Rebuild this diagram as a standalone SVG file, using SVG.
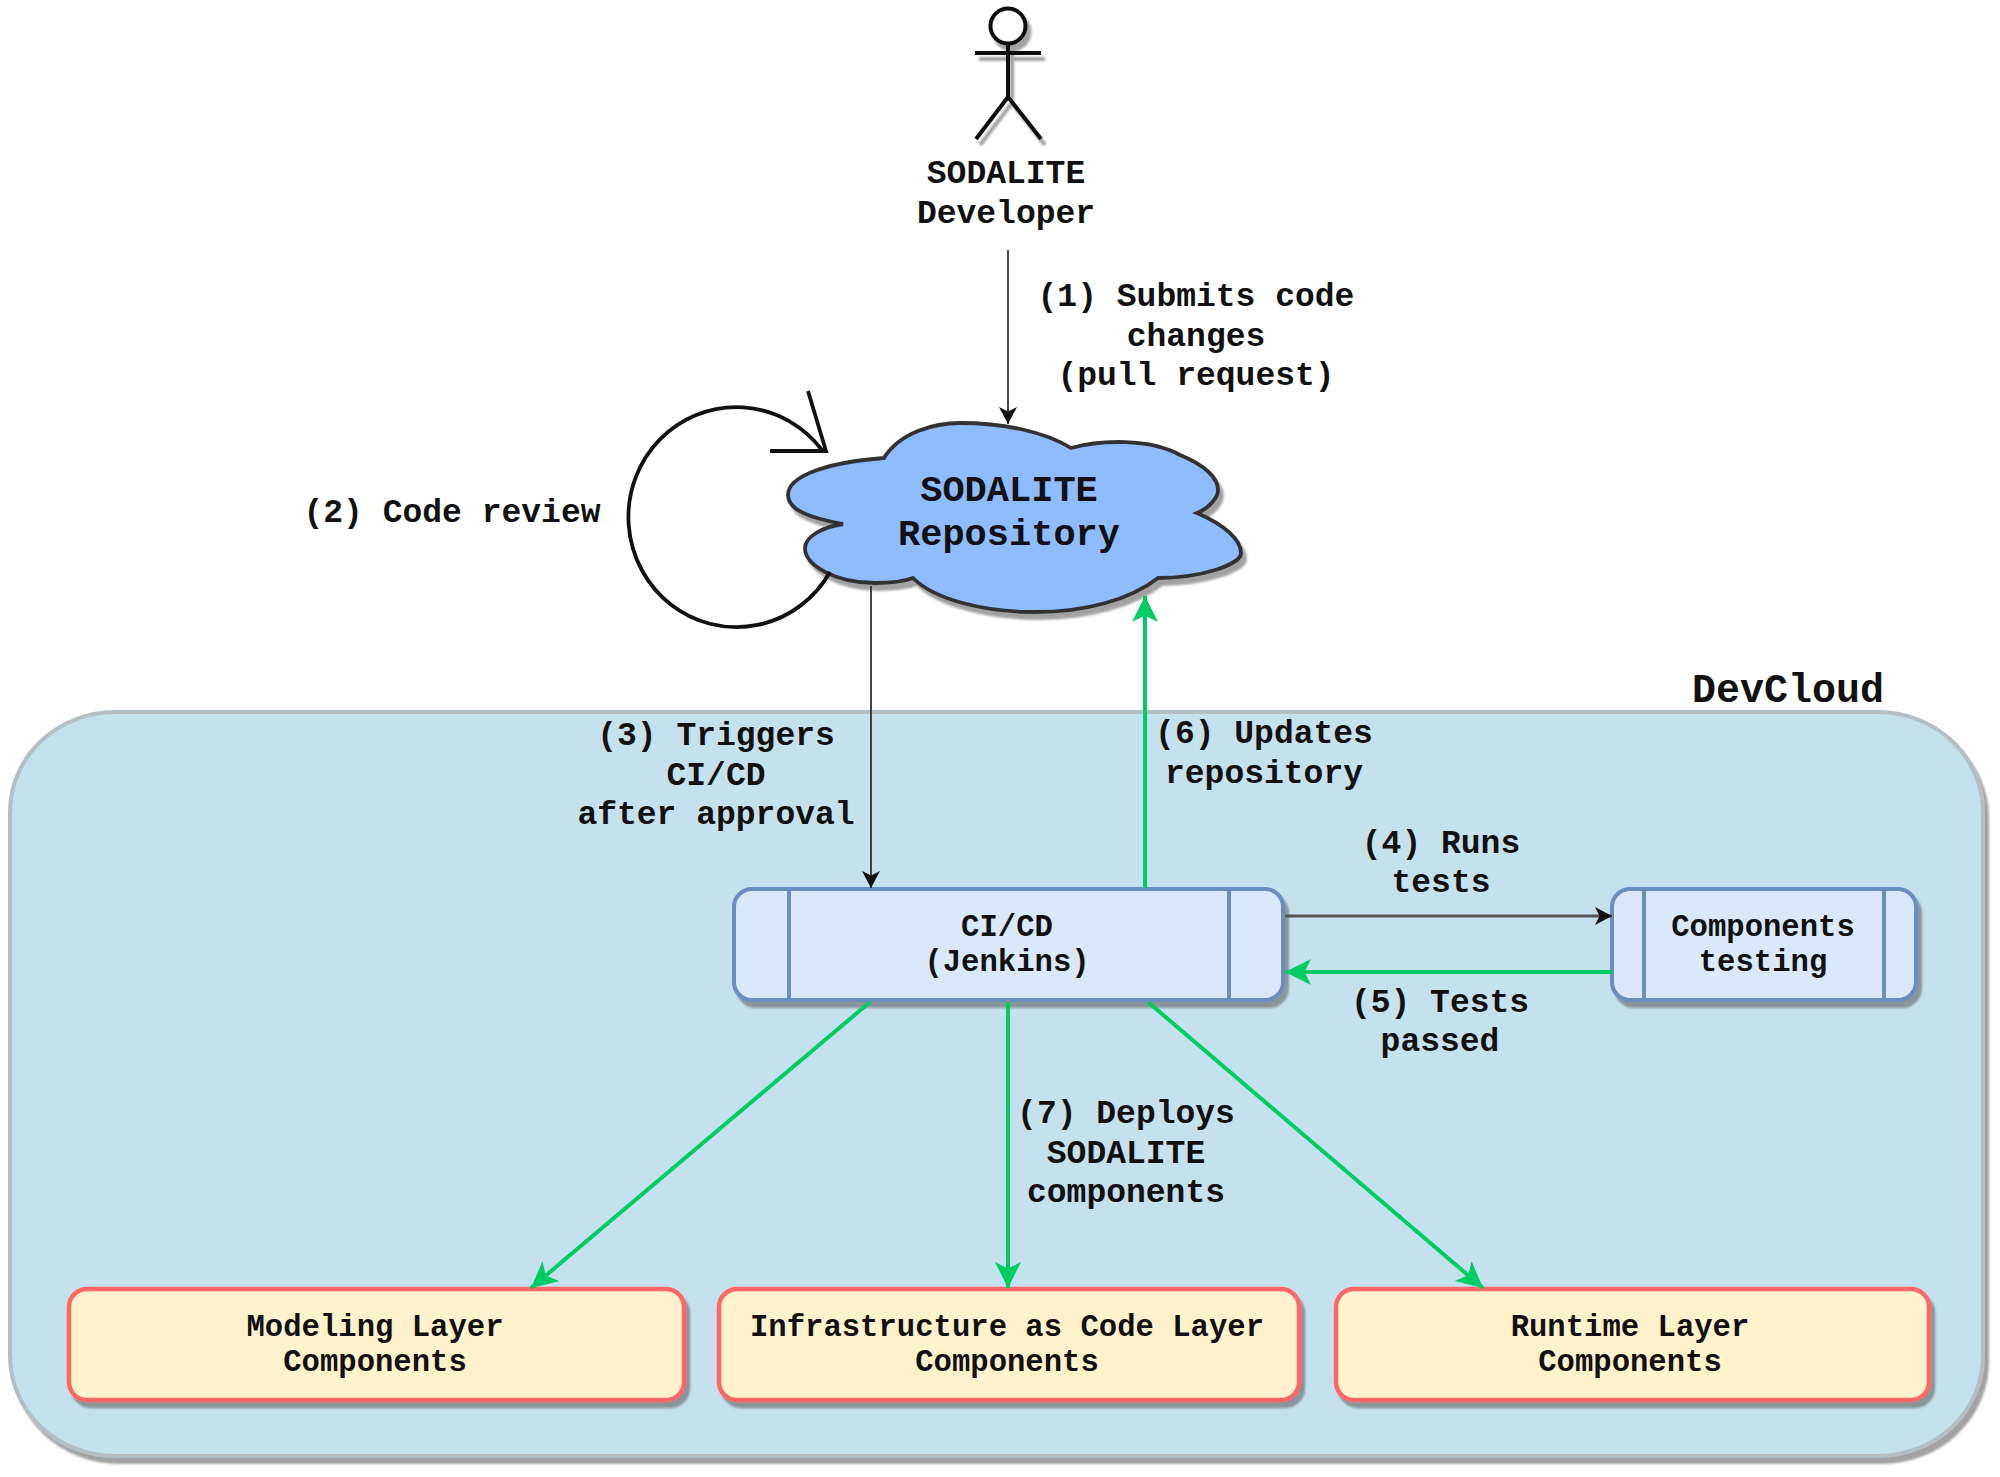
<svg xmlns="http://www.w3.org/2000/svg" width="2000" height="1477" viewBox="0 0 2000 1477">
<style>
text{font-family:"Liberation Mono","DejaVu Sans Mono",monospace;font-weight:700;fill:#111;text-anchor:middle}
.l{font-size:33px}.b{font-size:30.6px}.r{font-size:37px}.d{font-size:40px}
.blue{fill:#dae8fc;stroke:#6c8ebf;stroke-width:4}
.yel{fill:#fff2cc;stroke:#f66;stroke-width:4.5}
.in{fill:none;stroke:#6c8ebf;stroke-width:4}
.s{filter:url(#sh)}
.c{fill:none}
.gr{stroke:#00cc66;stroke-width:4}
.bk{stroke:#333;stroke-width:1.8}
</style>
<defs>
<filter id="sh" x="-10%" y="-10%" width="120%" height="120%"><feDropShadow dx="4" dy="6" stdDeviation="1.2" flood-color="#555" flood-opacity=".55"/></filter>
<marker id="ag" markerUnits="userSpaceOnUse" markerWidth="30" markerHeight="30" refX="26" refY="13" orient="auto"><path d="M26 13 L0 0 L6.5 13 L0 26Z" fill="#00cc66"/></marker>
<marker id="ak" markerUnits="userSpaceOnUse" markerWidth="20" markerHeight="20" refX="17" refY="9" orient="auto"><path d="M17 9 L0 0 L4.5 9 L0 18Z" fill="#111"/></marker>
</defs>
<g id="devcloud">
<rect class="s" x="10" y="712" width="1973" height="744" rx="105" ry="100" fill="#c6e1ee" stroke="#b3bfc4" stroke-width="4"/>
<text class="d" x="1788" y="702">DevCloud</text>
</g>
<g id="developer">
<g class="s" fill="none" stroke="#111" stroke-width="4">
<circle cx="1008" cy="26" r="17.5" fill="#fff"/>
<path d="M975 53H1041M1008 44V97M1008 97L976 139M1008 97L1041 139"/>
</g>
<text class="l" x="1006" y="183">SODALITE</text>
<text class="l" x="1006" y="223">Developer</text>
</g>
<g id="repository">
<path class="s" d="M884 458C900 432 935 423 960 423C1005 423 1045 432 1071 448C1100 440 1150 438 1180 455C1205 465 1218 478 1218 490C1218 497 1210 508 1197 513C1225 525 1241 540 1241 553C1241 565 1200 578 1158 578C1130 600 1085 612 1035 612C985 612 935 600 913 578C900 583 885 583 875 583C835 583 805 565 805 548C805 537 822 527 843 524C810 518 788 510 788 495C788 475 830 462 884 458Z" fill="#8fbbff" stroke="#333" stroke-width="3.8"/>
<text class="r" x="1009" y="501">SODALITE</text>
<text class="r" x="1009" y="545">Repository</text>
</g>
<g id="cicd">
<rect class="blue s" x="734" y="889" width="549" height="111" rx="18"/>
<path class="in" d="M789 889V1000M1229 889V1000"/>
<text class="b" x="1007" y="936">CI/CD</text>
<text class="b" x="1007" y="971">(Jenkins)</text>
</g>
<g id="testing">
<rect class="blue s" x="1612" y="889" width="304" height="111" rx="18"/>
<path class="in" d="M1644 889V1000M1884 889V1000"/>
<text class="b" x="1763" y="936">Components</text>
<text class="b" x="1763" y="971">testing</text>
</g>
<g id="modeling">
<rect class="yel s" x="69" y="1289" width="615" height="111" rx="18"/>
<text class="b" x="375" y="1336">Modeling Layer</text>
<text class="b" x="375" y="1371">Components</text>
</g>
<g id="iac">
<rect class="yel s" x="719" y="1289" width="580" height="111" rx="18"/>
<text class="b" x="1007" y="1336">Infrastructure as Code Layer</text>
<text class="b" x="1007" y="1371">Components</text>
</g>
<g id="runtime">
<rect class="yel s" x="1336" y="1289" width="593" height="111" rx="18"/>
<text class="b" x="1630" y="1336">Runtime Layer</text>
<text class="b" x="1630" y="1371">Components</text>
</g>
<g id="connectors">
<path class="c bk" d="M1008 250V424" marker-end="url(#ak)"/>
<path class="c" stroke="#111" stroke-width="3.8" stroke-linejoin="miter" d="M830 572A108 110 0 1 1 822 450L826 451M808 391L826 451H770"/>
<path class="c bk" d="M871 586V888" marker-end="url(#ak)"/>
<path class="c gr" d="M1145 888V596" marker-end="url(#ag)"/>
<path class="c" stroke="#555" stroke-width="3" d="M1285 916H1612" marker-end="url(#ak)"/>
<path class="c gr" d="M1612 972H1285" marker-end="url(#ag)"/>
<path class="c gr" d="M870 1002L531 1288" marker-end="url(#ag)"/>
<path class="c gr" d="M1008 1002V1288" marker-end="url(#ag)"/>
<path class="c gr" d="M1148 1002L1483 1288" marker-end="url(#ag)"/>
</g>
<g id="labels">
<text class="l" x="1196" y="306">(1) Submits code</text>
<text class="l" x="1196" y="346">changes</text>
<text class="l" x="1196" y="385">(pull request)</text>
<text class="l" x="452" y="522">(2) Code review</text>
<text class="l" x="716" y="745">(3) Triggers</text>
<text class="l" x="716" y="785">CI/CD</text>
<text class="l" x="716" y="824">after approval</text>
<text class="l" x="1264" y="743">(6) Updates</text>
<text class="l" x="1264" y="783">repository</text>
<text class="l" x="1441" y="853">(4) Runs</text>
<text class="l" x="1441" y="892">tests</text>
<text class="l" x="1440" y="1012">(5) Tests</text>
<text class="l" x="1440" y="1051">passed</text>
<text class="l" x="1126" y="1123">(7) Deploys</text>
<text class="l" x="1126" y="1163">SODALITE</text>
<text class="l" x="1126" y="1202">components</text>
</g>
</svg>
